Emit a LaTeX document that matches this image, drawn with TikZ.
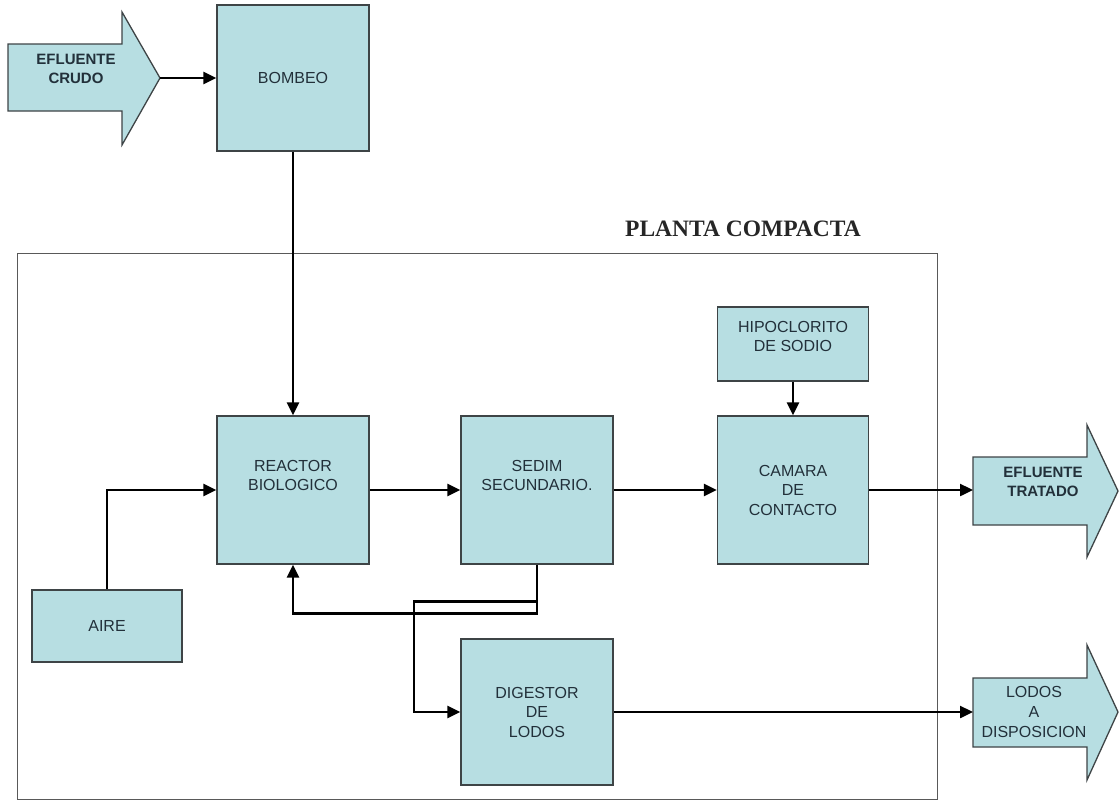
\documentclass[tikz,border=0pt]{standalone}
\usepackage{fontspec}
\setsansfont{Liberation Sans}
\newfontfamily\titlefont{Liberation Serif}
\usepackage{tikz}
\usetikzlibrary{calc}
\usetikzlibrary{arrows.meta}
\usetikzlibrary{positioning}

\definecolor{boxfill}{RGB}{183,222,226}
\definecolor{boxline}{RGB}{62,68,70}
\definecolor{boxtext}{RGB}{34,48,58}

\begin{document}
\begin{tikzpicture}[x=1pt,y=-1pt]
% 1 = 1px of the 1119x801 sheet
    \def\BOXW{152pt} %width of boxes
    \def\BOXH{148pt} %height of boxes
    \def\FLOWY{490} %main line
    \def\LODOSY{712} %sludge line

    \tikzset{
      proc/.style={draw=boxline,fill=boxfill,line width=1.3pt,
        minimum width=\BOXW,minimum height=\BOXH,inner sep=0pt,
        align=center,text=boxtext,font=\sffamily\fontsize{16}{19.5}\selectfont},
      small/.style={proc,minimum height=73pt},
      bigarrow/.style={draw=boxline,fill=boxfill,line width=1.3pt,line join=miter},
      txt/.style={align=center,text=boxtext,inner sep=0pt,
        font=\sffamily\fontsize{16}{20}\selectfont},
      flow/.style={-{Triangle[width=12pt,length=13pt]},line width=2.4pt,black},
    }

    \useasboundingbox (0,0) rectangle (1119,801);

    % PLANTA COMPACTA frame
    \draw[black!65,line width=1pt] (17,253) coordinate (FA) rectangle (937,799) coordinate (FB);
    \node[font=\titlefont\bfseries\fontsize{23.5}{26}\selectfont,text=black!85] (titulo)
        at (743,229) {PLANTA COMPACTA};

    % EFLUENTE CRUDO
    \draw[bigarrow] (8,44) -- (122,44) -- (122,12) -- (160,78) coordinate (CT)
        -- (122,145) -- (122,111) -- (8,111) -- cycle;
    \node[txt,font=\sffamily\bfseries\fontsize{15}{19}\selectfont] (crudo)
        at (76,69) {EFLUENTE\\CRUDO};

    % BOXES
    \node[proc,minimum height=146pt] (bombeo) at (293,78) {\raisebox{-4pt}{BOMBEO}};
    \node[proc] (reactor) at (293,\FLOWY) {REACTOR\\BIOLOGICO\\[10pt]\mbox{}};
    \node[proc] (sedim) at (537,\FLOWY) {SEDIM\\SECUNDARIO.\\[10pt]\mbox{}};
    \node[proc,minimum width=151pt] (camara) at (793,\FLOWY) {CAMARA\\DE\\CONTACTO};
    \node[small,minimum width=151pt,minimum height=74pt] (hipo) at (793,344)
        {HIPOCLORITO\\DE SODIO\\[-4pt]\mbox{}};
    \node[small,minimum width=150pt,minimum height=72pt] (aire) at (107,626) {AIRE};
    \node[proc,minimum height=146pt] (digestor) at (537,\LODOSY) {DIGESTOR\\DE\\LODOS};

    % EFLUENTE TRATADO
    \draw[bigarrow] (973,457) coordinate (TT) -- (1087,457) -- (1087,425) -- (1118,491)
        -- (1087,557) -- (1087,525) -- (973,525) -- cycle;
    \node[txt,font=\sffamily\bfseries\fontsize{15}{19}\selectfont] (tratado)
        at (1043,482) {EFLUENTE\\TRATADO};

    % LODOS A DISPOSICION
    \draw[bigarrow] (973,678) coordinate (LT) -- (1087,678) -- (1087,645) -- (1118,712)
        -- (1087,780) -- (1087,747) -- (973,747) -- cycle;
    \node[txt] (disposicion) at (1034,712) {LODOS\\A\\DISPOSICION};

    % FLOW LINES
    \draw[flow] (CT) -- (bombeo.west);
    \draw[flow] (bombeo.south) -- (reactor.north);
    \draw[flow] (aire.north) |- (reactor.west);
    \draw[flow] (reactor.east) -- (sedim.west);
    \draw[flow] (sedim.east) -- (camara.west);
    \draw[flow] (hipo.south) -- (camara.north);
    \draw[flow] (camara.east) -- (TT |- camara.east);
    \draw[flow] (digestor.east) -- (LT |- digestor.east);

    %sludge return and purge below sedim
    \draw[flow] (sedim.south) -- ++(0,49) coordinate (S1) -| (reactor.south);
    \draw[flow] ($(sedim.south)+(0,37)$) coordinate (S2) -- ++(-123,0) |- (digestor.west);

\end{tikzpicture}
\end{document}
